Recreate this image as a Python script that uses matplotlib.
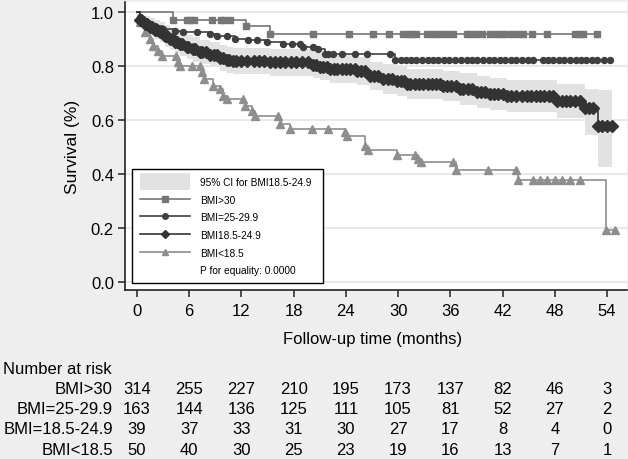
import numpy as np
import matplotlib
matplotlib.use("Agg")
import matplotlib.pyplot as plt
from matplotlib.lines import Line2D
from matplotlib.patches import Patch, Rectangle
from matplotlib.legend_handler import HandlerPatch
from matplotlib.transforms import blended_transform_factory

plt.rcParams['font.family'] = ['Liberation Sans', 'DejaVu Sans']

# Kaplan-Meier steps (event times / survival), censor marks, end of follow-up
obese_t = [0, 4.1, 12.5, 15.3]
obese_s = [1.0, 0.971, 0.949, 0.919]
obese_end = 52.8
obese_cens = [5.7, 6.1, 6.5, 8.6, 9.6, 10.0, 10.7, 20.2, 24.4, 27.1, 29.0, 30.6, 31.1, 31.6,
              32.1, 33.3, 33.9, 34.4, 35.0, 35.6, 36.3, 37.9, 38.4, 39.0, 39.6, 40.6, 41.2,
              41.8, 42.3, 43.1, 43.8, 44.3, 45.4, 47.1, 50.3, 50.8, 51.2, 52.8]

over_t = [0, 0.3, 0.9, 1.5, 2.1, 3.0, 4.4, 5.3, 8.4, 9.2, 11.3, 12.8, 14.9, 16.8, 19.1,
          20.8, 21.6, 29.6]
over_s = [1.0, 0.98, 0.965, 0.955, 0.948, 0.938, 0.93, 0.926, 0.918, 0.91, 0.9, 0.896,
          0.889, 0.881, 0.87, 0.863, 0.843, 0.822]
over_end = 54.3
over_cens = [6.9, 10.3, 13.8, 17.8, 18.7, 20.2, 22.0, 22.5, 23.6, 25.0, 26.4, 29.1, 30.3,
             30.9, 31.5, 32.1, 32.8, 33.4, 34.0, 34.6, 35.3, 35.9, 36.5, 37.2, 37.9, 38.5,
             39.1, 39.8, 40.4, 41.0, 41.7, 42.3, 43.0, 43.6, 44.2, 44.9, 45.5, 46.6, 47.2,
             47.8, 48.5, 49.1, 49.7, 50.4, 51.0, 51.6, 52.3, 52.9, 53.6, 54.3]

norm_t = [0, 0.3, 0.9, 1.5, 2.1, 2.6, 3.2, 3.8, 4.4, 4.9, 5.7, 6.4, 7.2, 8.4, 9.5, 10.3,
          11.0, 15.3, 20.2, 21.0, 22.2, 25.3, 26.8, 28.3, 29.9, 31.0, 35.2, 37.1, 39.1,
          40.6, 42.5, 48.3, 51.5, 53.0]
norm_s = [1.0, 0.97, 0.955, 0.945, 0.935, 0.925, 0.912, 0.9, 0.89, 0.882, 0.87, 0.862,
          0.852, 0.842, 0.83, 0.822, 0.817, 0.813, 0.805, 0.798, 0.789, 0.781, 0.763,
          0.752, 0.744, 0.733, 0.726, 0.715, 0.704, 0.696, 0.688, 0.672, 0.644, 0.578]
norm_lo = [1.0, 0.95, 0.925, 0.912, 0.9, 0.888, 0.872, 0.858, 0.847, 0.838, 0.825, 0.816,
           0.806, 0.795, 0.782, 0.774, 0.769, 0.764, 0.755, 0.747, 0.738, 0.729, 0.71,
           0.698, 0.689, 0.677, 0.669, 0.657, 0.645, 0.636, 0.628, 0.606, 0.545, 0.425]
norm_hi = [1.0, 0.99, 0.985, 0.978, 0.97, 0.962, 0.952, 0.942, 0.933, 0.925, 0.915, 0.908,
           0.898, 0.889, 0.878, 0.87, 0.865, 0.862, 0.855, 0.849, 0.84, 0.833, 0.816,
           0.806, 0.799, 0.789, 0.783, 0.773, 0.763, 0.756, 0.749, 0.735, 0.715, 0.71]
norm_end = 54.6
norm_cens = [0.5, 1.1, 1.7, 2.3, 2.9, 3.5, 4.1, 4.6, 5.2, 5.9, 6.7, 7.5, 7.9, 8.8, 9.2,
             9.9, 10.6, 11.4, 11.9, 12.6, 13.4, 14.0, 14.6, 15.8, 16.4, 17.0, 17.7, 18.3,
             19.0, 19.6, 20.6, 21.4, 21.8, 22.6, 23.0, 23.5, 24.0, 24.5, 25.0, 25.7, 26.2,
             27.2, 27.7, 28.8, 29.3, 30.3, 30.7, 31.4, 31.9, 32.4, 32.9, 33.4, 33.9, 34.4,
             34.8, 35.6, 36.1, 36.6, 37.5, 38.0, 38.5, 39.5, 40.0, 41.0, 41.5, 42.0, 43.0,
             43.6, 44.2, 44.8, 45.3, 45.8, 46.3, 46.8, 47.3, 47.8, 48.8, 49.3, 49.8, 50.3,
             50.9, 51.9, 52.4, 53.4, 54.0, 54.6]

under_t = [0, 0.3, 0.9, 1.5, 1.8, 2.4, 2.9, 4.7, 4.9, 7.5, 7.7, 8.7, 9.5, 9.9, 10.3, 12.4,
           13.2, 13.6, 16.4, 17.6, 23.9, 24.1, 26.2, 26.5, 29.9, 32.3, 32.6, 36.7, 43.8, 53.9]
under_s = [1.0, 0.963, 0.926, 0.9, 0.874, 0.855, 0.837, 0.815, 0.8, 0.778, 0.752, 0.726,
           0.715, 0.689, 0.678, 0.652, 0.633, 0.615, 0.585, 0.567, 0.556, 0.541, 0.504,
           0.489, 0.47, 0.456, 0.444, 0.415, 0.378, 0.193]
under_end = 54.9
under_cens = [4.5, 6.3, 7.2, 12.2, 16.2, 20.1, 22.0, 31.9, 36.3, 40.3, 43.5, 45.5, 46.3,
              47.1, 48.0, 48.8, 49.7, 50.9, 54.9]

# number at risk table
risk_times = [0, 6, 12, 18, 24, 30, 36, 42, 48, 54]
risk_labels = ['BMI>30', 'BMI=25-29.9', 'BMI=18.5-24.9', 'BMI<18.5']
risk_obese = [314, 255, 227, 210, 195, 173, 137, 82, 46, 3]
risk_over = [163, 144, 136, 125, 111, 105, 81, 52, 27, 2]
risk_normal = [39, 37, 33, 31, 30, 27, 17, 8, 4, 0]
risk_under = [50, 40, 30, 25, 23, 19, 16, 13, 7, 1]

W, H = 628, 460
fig = plt.figure(figsize=(W / 100, H / 100), dpi=100)
fig.patch.set_facecolor('#eeeeee')
ax = fig.add_axes([125 / W, (H - 291) / H, (627 - 125) / W, 288 / H])
ax.set_facecolor('white')


def km(ax, t, s, end, cens, color, marker, ms, z):
    tt = list(t) + [end]
    ss = list(s) + [s[-1]]
    ax.step(tt, ss, where='post', color=color, lw=1.2, zorder=z)
    mt = np.array(sorted(set(list(t[1:]) + list(cens))))
    idx = np.searchsorted(np.array(t), mt, side='right') - 1
    ax.plot(mt, np.array(s)[idx], ls='none', marker=marker, ms=ms, color=color,
            mec=color, zorder=z)


# CI band for BMI 18.5-24.9
ci_color = '#e2e2e2'
ax.fill_between(list(norm_t) + [norm_end], list(norm_lo) + [norm_lo[-1]],
                list(norm_hi) + [norm_hi[-1]], step='post', color=ci_color, lw=0,
                zorder=1)

c_obese, c_over, c_norm, c_under = '#767676', '#3f3f3f', '#333333', '#8e8e8e'
km(ax, under_t, under_s, under_end, under_cens, c_under, '^', 5.5, 3)
km(ax, obese_t, obese_s, obese_end, obese_cens, c_obese, 's', 5.0, 4)
km(ax, over_t, over_s, over_end, over_cens, c_over, 'o', 4.3, 5)
km(ax, norm_t, norm_s, norm_end, norm_cens, c_norm, 'D', 6.3, 6)

ax.set_xlim(-1.379, 56.3)
ax.set_ylim(-0.0296, 1.037)
ax.set_xticks(risk_times)
ax.set_yticks([0, 0.2, 0.4, 0.6, 0.8, 1.0])
ax.set_yticklabels(['0.0', '0.2', '0.4', '0.6', '0.8', '1.0'])
ax.yaxis.grid(True, color='#e6e6e6', lw=1.3, zorder=0)
ax.set_axisbelow(True)
for side in ['top', 'right']:
    ax.spines[side].set_visible(False)
for side in ['left', 'bottom']:
    ax.spines[side].set_color('#222222')
    ax.spines[side].set_linewidth(1.2)
ax.tick_params(axis='both', direction='out', length=5, width=1.1, color='#222222',
               labelsize=12, labelcolor='black')
ax.tick_params(axis='y', pad=3)
ax.tick_params(axis='x', pad=4)

fig.text(73 / W, 1 - 147 / H, 'Survival (%)', rotation=90, ha='center', va='center',
         fontsize=12.5)
fig.text(373 / W, 1 - 340 / H, 'Follow-up time (months)', ha='center', va='center',
         fontsize=12)


# legend: CI swatch taller than the row
def tall_patch(legend, orig_handle, xdescent, ydescent, width, height, fontsize):
    extra = 0.45 * height
    return Rectangle((-xdescent, -ydescent - extra), width, height + 2 * extra)


ci_handle = Patch(facecolor=ci_color, edgecolor='none')
handles = [
    ci_handle,
    Line2D([], [], color=c_obese, marker='s', ms=4, lw=1.2),
    Line2D([], [], color=c_over, marker='o', ms=4, lw=1.2),
    Line2D([], [], color=c_norm, marker='D', ms=4, lw=1.2),
    Line2D([], [], color=c_under, marker='^', ms=4.5, lw=1.2),
    Line2D([], [], color='none', lw=0),
]
labels = ['95% CI for BMI18.5-24.9', 'BMI>30', 'BMI=25-29.9', 'BMI18.5-24.9',
          'BMI<18.5', 'P for equality: 0.0000']
leg = ax.legend(handles, labels, loc='lower left',
                bbox_to_anchor=(0.014, 0.024, 0.38, 0.4), mode='expand',
                fontsize=7.3, handlelength=5.0, handleheight=1.0, handletextpad=1.0,
                labelspacing=0.76, borderpad=0.75, frameon=True, fancybox=False,
                borderaxespad=0,
                handler_map={ci_handle: HandlerPatch(patch_func=tall_patch)})
leg.get_frame().set_edgecolor('black')
leg.get_frame().set_linewidth(1.0)
leg.get_frame().set_facecolor('white')
leg.get_frame().set_alpha(1)
leg.set_zorder(10)

# number at risk table
tr = blended_transform_factory(ax.transData, fig.transFigure)
fig.text(3 / W, 1 - 369 / H, 'Number at risk', ha='left', va='center', fontsize=12)
rows = [risk_obese, risk_over, risk_normal, risk_under]
row_y = [390, 410, 430, 451]
for lab, vals, py in zip(risk_labels, rows, row_y):
    fig.text(113 / W, 1 - py / H, lab, ha='right', va='center', fontsize=12)
    for t, v in zip(risk_times, vals):
        ax.text(t, 1 - py / H, str(v), transform=tr, ha='center', va='center',
                fontsize=12, clip_on=False)

fig.savefig('out.png', dpi=100, facecolor=fig.get_facecolor())
